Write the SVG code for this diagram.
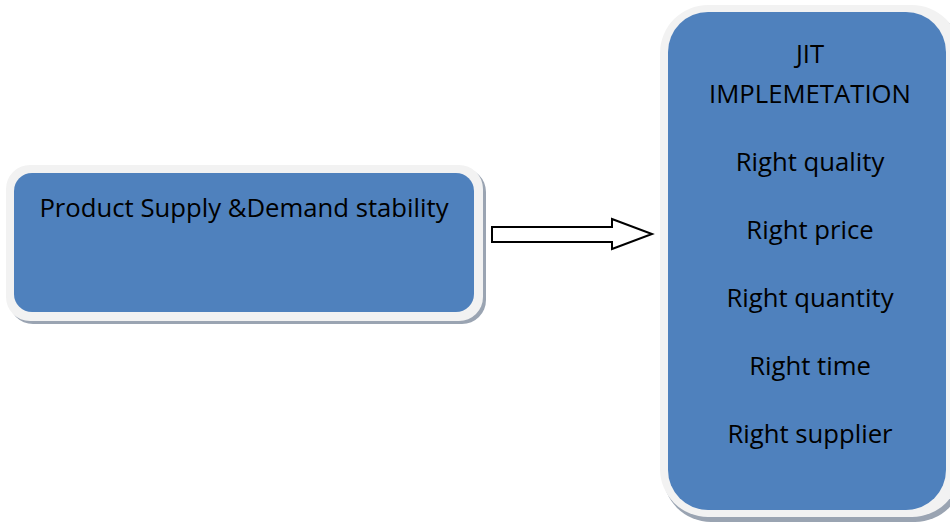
<svg xmlns="http://www.w3.org/2000/svg" width="950" height="522" viewBox="0 0 950 522">
<style>
.shadow{fill:#9aa4b2}
.frame{fill:#f2f2f2}
.body{fill:#4f81bd}
.t{font-family:"Open Sans","Liberation Sans",sans-serif;font-size:25.7px;fill:#000;text-anchor:middle}
</style>
<rect width="950" height="522" fill="#fff"/>
<g id="node-supply">
<rect class="shadow" x="9" y="168" width="477" height="156" rx="24"/>
<rect class="frame" x="6" y="165" width="477" height="156" rx="24"/>
<rect class="body" x="14" y="173" width="460" height="139" rx="18"/>
<text class="t" x="244" y="217">Product Supply &amp;Demand stability</text>
</g>
<g id="connectors">
<path d="M492 227 H612 V219 L652 234 L612 249 V242 H492 Z" fill="#fff" stroke="#000" stroke-width="2"/>
</g>
<g id="node-jit">
<rect class="shadow" x="663" y="9" width="300" height="513" rx="48"/>
<rect class="frame" x="660" y="5" width="300" height="512" rx="48"/>
<rect class="body" x="668" y="12" width="278" height="498" rx="40"/>
<text class="t" x="810" y="63">JIT</text>
<text class="t" x="810" y="103">IMPLEMETATION</text>
<text class="t" x="810" y="171">Right quality</text>
<text class="t" x="810" y="239">Right price</text>
<text class="t" x="810" y="307">Right quantity</text>
<text class="t" x="810" y="375">Right time</text>
<text class="t" x="810" y="443">Right supplier</text>
</g>
</svg>
